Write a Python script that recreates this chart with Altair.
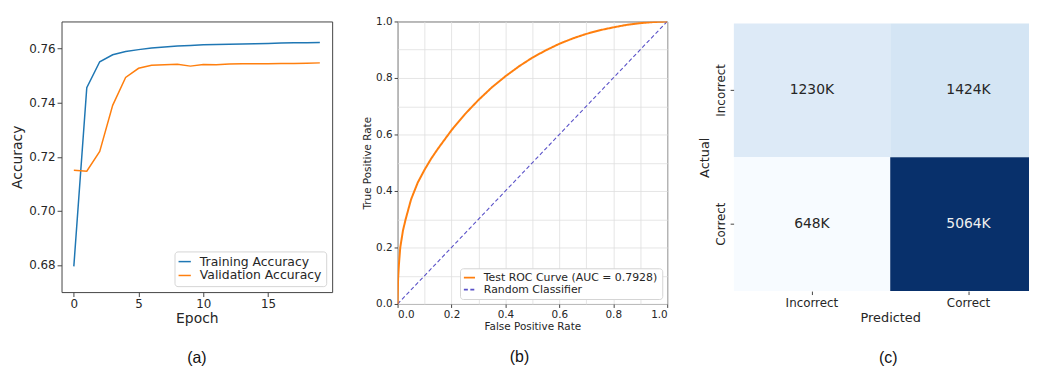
import altair as alt
import pandas as pd
import numpy as np

# ---------------- data ----------------
epochs = list(range(20))
train_acc = [0.6795, 0.7455, 0.7551, 0.7577, 0.7589, 0.7596, 0.7602, 0.7606, 0.7609, 0.7611,
             0.7614, 0.7615, 0.7616, 0.7617, 0.7618, 0.7619, 0.7620, 0.7621, 0.7621, 0.7622]
val_acc = [0.7150, 0.7147, 0.7220, 0.7390, 0.7493, 0.7527, 0.7538, 0.7540, 0.7542, 0.7535,
           0.7541, 0.7540, 0.7543, 0.7544, 0.7544, 0.7544, 0.7545, 0.7545, 0.7546, 0.7547]
series_a = ["Training Accuracy", "Validation Accuracy"]

roc_fpr = [0, 0.002, 0.005, 0.01, 0.02, 0.03, 0.05, 0.075, 0.1, 0.125, 0.15, 0.2, 0.25, 0.3,
           0.35, 0.4, 0.45, 0.5, 0.55, 0.6, 0.65, 0.7, 0.75, 0.8, 0.85, 0.9, 0.95, 1.0]
roc_tpr = [0, 0.09, 0.14, 0.20, 0.26, 0.30, 0.37, 0.43, 0.475, 0.515, 0.55, 0.615, 0.672, 0.722,
           0.767, 0.806, 0.841, 0.872, 0.898, 0.921, 0.94, 0.956, 0.969, 0.979, 0.988, 0.994, 0.998, 1.0]
diag_x = [0.0, 1.0]
diag_y = [0.0, 1.0]
series_b = ["Test ROC Curve (AUC = 0.7928)", "Random Classifier"]

classes = ["Incorrect", "Correct"]
cm_actual = ["Incorrect", "Incorrect", "Correct", "Correct"]
cm_pred = ["Incorrect", "Correct", "Incorrect", "Correct"]
cm_value = [1230, 1424, 648, 5064]
cm_label = ["1230K", "1424K", "648K", "5064K"]
blues = ["#f7fbff", "#deebf7", "#c6dbef", "#9ecae1", "#6baed6", "#4292c6", "#2171b5", "#08519c", "#08306b"]

captions = ["(a)", "(b)", "(c)"]

FONT = "DejaVu Sans"
TXT = "#262626"
FRAME = "#444444"
LEG_LINE = "M-1.6,0L1.6,0"

def caption(text, offset, dx=0):
    return alt.TitleParams(text=text, orient="bottom", font="Liberation Sans", fontSize=16,
                           fontWeight="normal", color="#111111", offset=offset, dx=dx,
                           frame="group", anchor="middle")

frame_view = alt.ViewBackground(stroke=FRAME, strokeWidth=1)

# ---------------- panel (a) ----------------
df_a = pd.DataFrame({
    "Epoch": epochs + epochs,
    "Accuracy": train_acc + val_acc,
    "Series": [series_a[0]] * len(epochs) + [series_a[1]] * len(epochs),
})

axis_a = dict(labelFont=FONT, titleFont=FONT, labelColor=TXT, titleColor=TXT,
              labelFontSize=12, titleFontSize=14, titleFontWeight="normal",
              tickSize=4.5, tickColor=FRAME, domain=False, grid=False, labelPadding=2)

panel_a = alt.Chart(df_a).mark_line(strokeWidth=1.5, clip=True).encode(
    x=alt.X("Epoch:Q", scale=alt.Scale(domain=[-0.95, 19.95], nice=False, zero=False),
            axis=alt.Axis(values=[0, 5, 10, 15], title="Epoch", titlePadding=2, **axis_a)),
    y=alt.Y("Accuracy:Q", scale=alt.Scale(domain=[0.670, 0.770], nice=False, zero=False),
            axis=alt.Axis(values=[0.68, 0.70, 0.72, 0.74, 0.76], format=".2f", title="Accuracy",
                          titlePadding=4, **axis_a)),
    color=alt.Color("Series:N", scale=alt.Scale(domain=series_a, range=["#1f77b4", "#ff7f0e"]),
                    legend=alt.Legend(title=None, orient="bottom-right", offset=6,
                                      symbolType=LEG_LINE, symbolSize=60, symbolStrokeWidth=1.5,
                                      labelFont=FONT, labelFontSize=12.5, labelColor=TXT,
                                      fillColor="white", strokeColor="#d4d4d4", cornerRadius=3,
                                      padding=4, rowPadding=1, labelOffset=9, labelLimit=0)),
).properties(width=273, height=273, title=caption(captions[0], 25), view=frame_view)

# ---------------- panel (b) ----------------
df_b = pd.DataFrame({
    "FPR": roc_fpr + diag_x,
    "TPR": roc_tpr + diag_y,
    "Series": [series_b[0]] * len(roc_fpr) + [series_b[1]] * len(diag_x),
})

tick_vals = [round(i * 0.1, 1) for i in range(11)]
label_expr = "round(datum.value*10) % 2 == 0 ? format(datum.value, '.1f') : ''"
axis_b = dict(values=tick_vals, labelExpr=label_expr, labelFont=FONT, titleFont=FONT,
              labelColor=TXT, titleColor=TXT, labelFontSize=10.5, titleFontSize=10.5,
              titleFontWeight="normal", tickSize=3.5, tickColor=FRAME, domain=False,
              grid=True, gridColor="#dedede", gridWidth=0.8, labelPadding=2,
              tickOpacity={"condition": {"test": "round(datum.value*10) % 2 == 1", "value": 0}, "value": 1})

enc_b = dict(
    x=alt.X("FPR:Q", scale=alt.Scale(domain=[0, 1], nice=False),
            axis=alt.Axis(title="False Positive Rate", titlePadding=2, **axis_b)),
    y=alt.Y("TPR:Q", scale=alt.Scale(domain=[0, 1], nice=False),
            axis=alt.Axis(title="True Positive Rate", titlePadding=3, **axis_b)),
    color=alt.Color("Series:N", scale=alt.Scale(domain=series_b, range=["#ff7f0e", "#5a52c8"]),
                    legend=alt.Legend(title=None, orient="bottom-right", offset=5,
                                      symbolType=LEG_LINE, symbolSize=49, symbolStrokeWidth=1.8,
                                      labelFont=FONT, labelFontSize=11, labelColor=TXT,
                                      fillColor="white", strokeColor="#d4d4d4", cornerRadius=3,
                                      padding=4, rowPadding=0, labelOffset=9, labelLimit=0)),
    strokeDash=alt.StrokeDash("Series:N", scale=alt.Scale(domain=series_b, range=[[1, 0], [4, 2.5]]),
                              legend=None),
)
roc_line = alt.Chart(df_b).transform_filter(alt.datum.Series == series_b[0]).mark_line(
    strokeWidth=2, clip=True).encode(**enc_b)
diag_line = alt.Chart(df_b).transform_filter(alt.datum.Series == series_b[1]).mark_line(
    strokeWidth=1.1, clip=True).encode(**enc_b)
panel_b = alt.layer(diag_line, roc_line).properties(
    width=272, height=285, title=caption(captions[1], 17.5, dx=-13), view=frame_view)

# ---------------- panel (c) ----------------
df_c = pd.DataFrame({"Actual": cm_actual, "Predicted": cm_pred, "Value": cm_value, "Label": cm_label})
vmin, vmax = min(cm_value), max(cm_value)
color_domain = list(np.linspace(vmin, vmax, len(blues)))

axis_c = dict(labelFont=FONT, titleFont=FONT, labelColor=TXT, titleColor=TXT,
              labelFontSize=12, titleFontSize=13, titleFontWeight="normal",
              tickSize=3.5, tickColor=FRAME, domain=False, grid=False, labelPadding=3)

x_c = alt.X("Predicted:N", sort=classes,
            scale=alt.Scale(domain=classes, range=[0, 316], paddingInner=0, paddingOuter=0),
            axis=alt.Axis(title="Predicted", labelAngle=0, titlePadding=3, **axis_c))
y_c = alt.Y("Actual:N", sort=classes,
            scale=alt.Scale(domain=classes, range=[2, 272], paddingInner=0, paddingOuter=0),
            axis=alt.Axis(title="Actual", labelAngle=270, titlePadding=3, **axis_c))

cells = alt.Chart(df_c).mark_rect(clip=True).encode(
    x=x_c, y=y_c,
    color=alt.Color("Value:Q", scale=alt.Scale(domain=color_domain, range=blues), legend=None),
)
texts = alt.Chart(df_c).mark_text(font=FONT, fontSize=14).encode(
    x=x_c, y=y_c, text="Label:N",
    color=alt.condition(alt.datum.Value > 3000, alt.value("#f0f0f0"), alt.value(TXT)),
)
panel_c = alt.layer(cells, texts).properties(
    width=298, height=272, title=caption(captions[2], 25.6, dx=7),
    view=alt.ViewBackground(stroke="transparent"))

chart = alt.hconcat(panel_a, panel_b, panel_c, spacing=29).resolve_scale(
    color="independent", strokeDash="independent", x="independent", y="independent"
).properties(
    padding={"left": 2, "top": 6, "right": -18, "bottom": 0},
    background="white",
)

chart.save("out.html", embed_options={"renderer": "svg", "actions": False})
